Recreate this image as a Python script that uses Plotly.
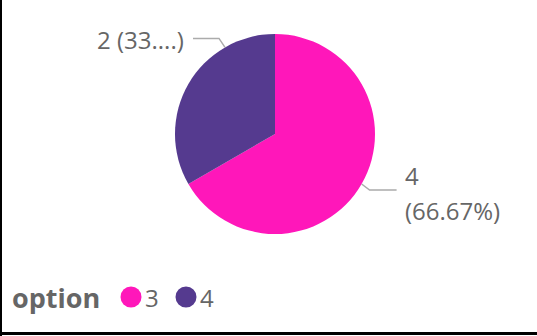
import math
import plotly.graph_objects as go

# Data
options = ["3", "4"]
counts = [4, 2]
colors = ["#FF17BA", "#553A8F"]
legend_title = "option"

W, H = 537, 336
FONT = "Open Sans, Noto Sans, sans-serif"
TEXT_COLOR = "#666666"
LINE_COLOR = "#ABABAB"
LABEL_SIZE = 24

# Pie geometry (pixels)
CX, CY, R = 275, 134, 100


def px(x):
    return x / W


def py(y):
    return 1 - y / H


total = sum(counts)
pcts = [c / total * 100 for c in counts]

fig = go.Figure()
fig.add_trace(go.Pie(
    labels=options,
    values=counts,
    marker=dict(colors=colors, line=dict(width=0)),
    sort=False,
    direction="clockwise",
    rotation=0,
    textinfo="none",
    hoverinfo="label+value+percent",
    showlegend=False,
    domain=dict(x=[px(CX - R), px(CX + R)], y=[py(CY + R), py(CY - R)]),
))

shapes = []
annotations = []


def edge_point(angle_deg):
    a = math.radians(angle_deg)
    return CX + R * math.sin(a), CY - R * math.cos(a)


# Slice angles (clockwise from 12 o'clock)
starts = []
acc = 0
for c in counts:
    starts.append(acc / total * 360)
    acc += c

# Label for the first slice (right side, two lines)
mid0 = starts[0] + counts[0] / total * 180
x0, y0 = edge_point(mid0)
x1, y1 = x0 + 8, y0 + 6
x2 = x1 + 27
shapes.append(dict(type="path", xref="paper", yref="paper",
                   path=f"M {px(x0)},{py(y0)} L {px(x1)},{py(y1)} L {px(x2)},{py(y1)}",
                   line=dict(color=LINE_COLOR, width=1.5)))
annotations.append(dict(x=px(x2 + 6), y=py(y1 - 14), xref="paper", yref="paper",
                        text=f"{counts[0]}", showarrow=False, xanchor="left", yanchor="middle",
                        font=dict(family=FONT, size=LABEL_SIZE, color=TEXT_COLOR)))
annotations.append(dict(x=px(x2 + 6), y=py(y1 + 21), xref="paper", yref="paper",
                        text=f"({pcts[0]:.2f}%)", showarrow=False, xanchor="left", yanchor="middle",
                        font=dict(family=FONT, size=LABEL_SIZE, color=TEXT_COLOR)))

# Label for the second slice (upper left, truncated)
anchor1 = starts[1] + counts[1] / total * 360 * 0.75
x0, y0 = edge_point(anchor1)
x1, y1 = x0 - 6, y0 - 9
x2 = x1 - 26
shapes.append(dict(type="path", xref="paper", yref="paper",
                   path=f"M {px(x0)},{py(y0)} L {px(x1)},{py(y1)} L {px(x2)},{py(y1)}",
                   line=dict(color=LINE_COLOR, width=1.5)))
pct_txt = f"{pcts[1]:.2f}%"
annotations.append(dict(x=px(x2 - 7), y=py(y1 + 1), xref="paper", yref="paper",
                        text=f"{counts[1]} ({pct_txt[:3]}...)", showarrow=False,
                        xanchor="right", yanchor="middle",
                        font=dict(family=FONT, size=LABEL_SIZE, color=TEXT_COLOR)))

# Legend drawn at the bottom left
LY = 297
annotations.append(dict(x=px(10), y=py(LY), xref="paper", yref="paper",
                        text=f"<b>{legend_title}</b>", showarrow=False,
                        xanchor="left", yanchor="middle",
                        font=dict(family=FONT, size=27, color=TEXT_COLOR)))
lx = 131
for name, col in zip(options, colors):
    rr = 10.5
    shapes.append(dict(type="circle", xref="paper", yref="paper",
                       x0=px(lx - rr), x1=px(lx + rr), y0=py(LY + rr), y1=py(LY - rr),
                       fillcolor=col, line=dict(width=0)))
    annotations.append(dict(x=px(lx + 12), y=py(LY), xref="paper", yref="paper",
                            text=name, showarrow=False, xanchor="left", yanchor="middle",
                            font=dict(family=FONT, size=LABEL_SIZE, color=TEXT_COLOR)))
    lx += 55

# Frame lines on the left and bottom edges
shapes.append(dict(type="line", xref="paper", yref="paper",
                   x0=px(1), x1=px(1), y0=0, y1=1, line=dict(color="#000000", width=2)))
shapes.append(dict(type="line", xref="paper", yref="paper",
                   x0=0, x1=1, y0=py(333.5), y1=py(333.5), line=dict(color="#000000", width=3)))

fig.update_layout(
    width=W, height=H,
    margin=dict(l=0, r=0, t=0, b=0),
    paper_bgcolor="white",
    plot_bgcolor="white",
    shapes=shapes,
    annotations=annotations,
)

fig.write_html("out.html")
